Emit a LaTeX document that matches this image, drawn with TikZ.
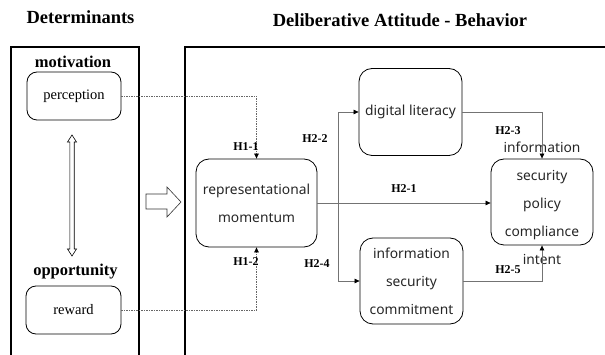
\documentclass[tikz,border=0pt]{standalone}
\usepackage{fontspec}
\setmainfont{Liberation Serif}
\newfontfamily\sansf{Noto Sans}
\usetikzlibrary{arrows.meta}
\begin{document}
\begin{tikzpicture}[x=1pt,y=-1pt,
  title/.style={font=\bfseries\fontsize{18.5}{22}\selectfont, inner sep=0pt},
  grp/.style={font=\bfseries\fontsize{16.5}{20}\selectfont, inner sep=0pt},
  detbox/.style={draw=black, line width=0.8pt, rounded corners=10pt, minimum width=94pt, minimum height=48pt, font=\fontsize{14.5}{17}\selectfont, inner sep=0pt},
  vartext/.style={font=\sansf\fontsize{13.8}{28}\selectfont, align=center, inner sep=0pt, text=black!85},
  varbox/.style={vartext, draw=black, line width=0.8pt, rounded corners=13pt},
  hyp/.style={font=\bfseries\fontsize{12}{14}\selectfont, inner sep=0pt},
  link/.style={draw=black!55, line width=0.7pt, -{Triangle[length=5pt,width=4.5pt,color=black]}},
  dlink/.style={link, draw=black!60, dash pattern=on 1.5pt off 1pt},
  frame/.style={line width=1.8pt}
]
\useasboundingbox (0,0) rectangle (605,355);
\clip (0,0) rectangle (605,355);

% frames
\draw[frame] (11,360) -- (11,47) -- (139,47) -- (139,360);
\draw[frame] (185,360) -- (185,47) -- (610,47);

% titles
\node[title, anchor=base] (tdet) at (80.5,24) {Determinants};
\node[title, anchor=base] (tdel) at (400,26.5) {Deliberative Attitude - Behavior};

% determinants
\node[grp, anchor=base] (mot) at (73,68) {motivation};
\node[grp, anchor=base] (opp) at (75.5,275.5) {opportunity};
\node[detbox] (perc) at (74,96) {perception};
\node[detbox, minimum width=95pt] (rew) at (73.5,310) {reward};

% double-headed hollow arrow
\draw[line width=0.6pt, fill=white] (72,135) -- (76.5,142) -- (74.2,142) -- (74.2,249) -- (76.5,249) -- (72,256) -- (67.5,249) -- (69.8,249) -- (69.8,142) -- (67.5,142) -- cycle;

% block arrow
\draw[line width=0.6pt, draw=black!80, fill=white] (146,194) -- (167,194) -- (167,187) -- (181,202) -- (167,217) -- (167,209) -- (146,209) -- cycle;

% variable boxes
\node[varbox, minimum width=121pt, minimum height=88pt] (rm) at (256.5,203) {representational\\momentum};
\node[varbox, minimum width=103pt, minimum height=87pt] (dl) at (410.5,112) {digital literacy};
\node[varbox, minimum width=103pt, minimum height=86pt] (isc) at (411.5,281) {information\\security\\commitment};
\node[varbox, minimum width=102pt, minimum height=86pt] (isp) at (542,202) {};
\node[vartext] (isptext) at (542,203) {information\\security\\policy\\compliance\\intent};

% connectors
\draw[dlink] (perc.east) -| (rm.north);
\draw[dlink] (rew.east) -| (rm.south);
\draw[link] (rm.east) -- (rm.east -| isp.west);
\coordinate (split) at (338,203);
\draw[link] (split) |- (dl.west);
\draw[link] (split) |- (isc.west);
\draw[link] (dl.east) -| (isp.north);
\draw[link] (isc.east) -| (isp.south);

% hypothesis labels
\node[hyp] (h11) at (246,147) {H1-1};
\node[hyp] (h12) at (246,262) {H1-2};
\node[hyp] (h22) at (315,139) {H2-2};
\node[hyp] (h24) at (317,264) {H2-4};
\node[hyp] (h21) at (404,189) {H2-1};
\node[hyp] (h23) at (508,131) {H2-3};
\node[hyp] (h25) at (508,270) {H2-5};
\end{tikzpicture}
\end{document}
